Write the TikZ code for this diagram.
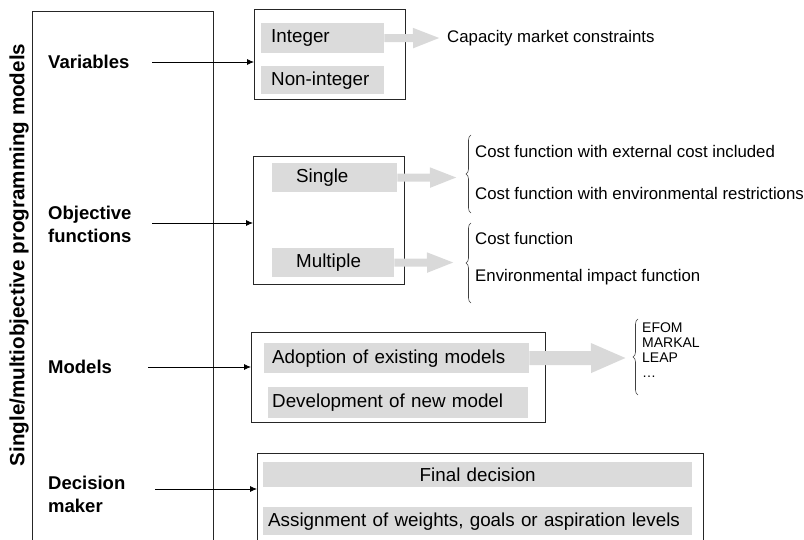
\documentclass[tikz,border=0pt]{standalone}
\usepackage{fontspec}
\setmainfont{Liberation Sans}
\usetikzlibrary{arrows.meta,decorations.pathreplacing}

\begin{document}
\begin{tikzpicture}[x=1pt,y=-1pt,
  outline/.style={draw=black!85, line width=0.9pt, rectangle, anchor=north west, inner sep=0pt},
  bar/.style={fill=black!14, rectangle, anchor=north west, inner ysep=0pt,
              align=left, font=\fontsize{18.8}{22}\selectfont},
  catlabel/.style={anchor=west, inner sep=0pt, align=left,
                   font=\bfseries\fontsize{18.5}{23}\selectfont},
  side/.style={anchor=west, inner sep=0pt, font=\fontsize{16.8}{20}\selectfont},
  link/.style={draw=black, line width=0.8pt, -{Latex[length=7pt,width=6pt]}},
  fat/.style={draw=black!15, line width=8pt, -{Triangle[length=28pt,width=18pt]}},
  fatbig/.style={draw=black!15, line width=14pt, -{Triangle[length=36pt,width=27pt]}},
  curly/.style={draw=black!75, line width=0.6pt, decorate,
                decoration={brace, amplitude=5pt}}
]
\useasboundingbox (0,0) rectangle (804,540);

% outer frame holding the category labels (open towards the bottom)
\node[outline, minimum width=181pt, minimum height=580pt] (frame) at (32,11) {};
\node[rotate=90, inner sep=0pt, font=\bfseries\fontsize{20.6}{24}\selectfont] (title)
  at (19,255) {Single/multiobjective programming models};

% category labels
\node[catlabel] (var) at (48,62) {Variables};
\node[catlabel] (obj) at (48,224.5) {Objective\\functions};
\node[catlabel] (mod) at (48,367) {Models};
\node[catlabel] (dm)  at (48,494.5) {Decision\\maker};

% option boxes
\node[outline, minimum width=151pt, minimum height=90pt]  (b1) at (254,9) {};
\node[outline, minimum width=151pt, minimum height=128pt] (b2) at (253,156) {};
\node[outline, minimum width=294pt, minimum height=90pt]  (b3) at (251,332) {};
\node[outline, minimum width=446pt, minimum height=120pt] (b4) at (257,453) {};

% grey option bars
\node[bar, inner xsep=10pt, text width=103pt, minimum height=30pt] (int)    at (261,23)  {Integer};
\node[bar, inner xsep=10pt, text width=103pt, minimum height=28pt] (nonint) at (261,66)  {Non-integer};
\node[bar, inner xsep=24pt, text width=77pt,  minimum height=29pt] (single) at (272,163) {Single};
\node[bar, inner xsep=24pt, text width=74pt,  minimum height=29pt] (multi)  at (272,248) {Multiple};
\node[bar, inner xsep=8pt,  text width=249pt, minimum height=30pt] (adopt)  at (264,343) {Adoption of existing models};
\node[bar, inner xsep=4pt,  text width=252pt, minimum height=31pt] (devel)  at (268,387) {Development of new model};
\node[bar, inner xsep=0pt,  text width=429pt, minimum height=25pt, align=center] (final) at (263,462) {Final decision};
\node[bar, inner xsep=5pt,  text width=419pt, minimum height=28pt] (assign) at (263,507) {Assignment of weights, goals or aspiration levels};

% connectors from the labels to their boxes
\coordinate (vs) at (152,62);
\coordinate (os) at (152,223);
\coordinate (ms) at (148,367);
\coordinate (ds) at (155,489);
\draw[link] (vs) -- (vs -| b1.west);
\draw[link] (os) -- (os -| b2.west);
\draw[link] (ms) -- (ms -| b3.west);
\draw[link] (ds) -- (ds -| b4.west);

% broad grey arrows
\coordinate (intend)    at (441,38);
\coordinate (singleend) at (458,177.5);
\coordinate (multiend)  at (455,262.5);
\coordinate (adoptend)  at (627,358);
\draw[fat]    (int.east)    -- (intend);
\draw[fat]    (single.east) -- (singleend);
\draw[fat]    (multi.east)  -- (multiend);
\draw[fatbig] (adopt.east)  -- (adoptend);

% right-hand details
\node[side] (cap) at (447,38) {Capacity market constraints};

\coordinate (br1b) at (471,213);
\coordinate (br1t) at (471,135);
\draw[curly] (br1b) -- (br1t);
\node[side] (ext) at (475,151) {Cost function with external cost included};
\node[side] (env) at (475,193) {Cost function with environmental restrictions};

\coordinate (br2b) at (471,303);
\coordinate (br2t) at (471,223);
\draw[curly] (br2b) -- (br2t);
\node[side] (cost) at (475,238) {Cost function};
\node[side] (imp)  at (475,277) {Environmental impact function};

\coordinate (br3b) at (638,395);
\coordinate (br3t) at (638,319);
\draw[curly] (br3b) -- (br3t);
\node[anchor=north west, inner sep=0pt, align=left,
      font=\fontsize{14}{15}\selectfont] (list) at (642,323) {EFOM\\MARKAL\\LEAP\\…};
\end{tikzpicture}
\end{document}
